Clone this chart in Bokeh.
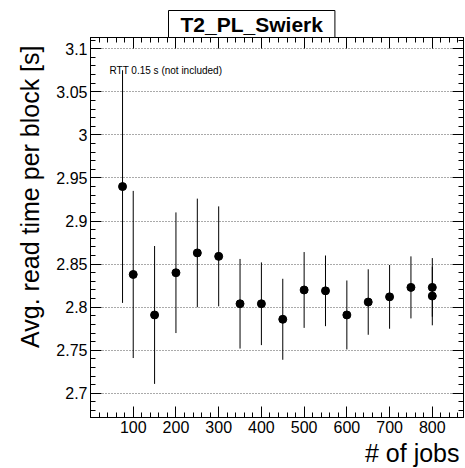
from bokeh.plotting import figure
from bokeh.models import (Range1d, FixedTicker, LinearAxis, Label, Title, Grid,
                          CustomJSTickFormatter, ColumnDataSource)
from bokeh.embed import file_html
from bokeh.resources import INLINE

# Average read time per block vs. number of concurrent jobs
jobs = [75, 100, 150, 200, 250, 300, 350, 400, 450, 500, 550, 600, 650, 700, 750, 800, 800]
read_time = [2.940, 2.838, 2.791, 2.840, 2.863, 2.859, 2.804, 2.804, 2.786, 2.820,
             2.819, 2.791, 2.806, 2.812, 2.823, 2.823, 2.813]
read_err = [0.135, 0.097, 0.080, 0.070, 0.063, 0.058, 0.052, 0.048, 0.047, 0.044,
            0.041, 0.040, 0.038, 0.037, 0.036, 0.034, 0.034]

x_major = [100, 200, 300, 400, 500, 600, 700, 800]
y_major = [2.7, 2.75, 2.8, 2.85, 2.9, 2.95, 3.0, 3.05, 3.1]

FONT = "Liberation Sans"

src = ColumnDataSource(dict(
    x=jobs, y=read_time,
    lo=[v - e for v, e in zip(read_time, read_err)],
    hi=[v + e for v, e in zip(read_time, read_err)],
))

p = figure(width=465, height=468, output_backend="svg", toolbar_location=None,
           x_range=Range1d(0, 873), y_range=Range1d(2.672, 3.113),
           min_border_left=90, min_border_right=2, min_border_top=37,
           min_border_bottom=51, background_fill_color="white",
           border_fill_color="white", x_axis_type=None, y_axis_type=None)
p.outline_line_color = "black"
p.outline_line_width = 1

x_ticker = FixedTicker(ticks=x_major, minor_ticks=list(range(0, 880, 20)))
y_ticker = FixedTicker(ticks=y_major,
                       minor_ticks=[round(2.67 + 0.01 * i, 2) for i in range(45)])
fmt = CustomJSTickFormatter(code="return String(parseFloat(tick.toFixed(3)));")


def style_axis(ax, labels):
    ax.axis_line_color = "black"
    ax.major_tick_line_color = "black"
    ax.minor_tick_line_color = "black"
    ax.major_tick_in = 11
    ax.major_tick_out = 0
    ax.minor_tick_in = 5
    ax.minor_tick_out = 0
    if labels:
        ax.major_label_text_font = FONT
        ax.major_label_text_font_size = "16px"
        ax.major_label_text_color = "black"
        ax.major_label_standoff = 3
    else:
        ax.major_label_text_font_size = "0px"
        ax.major_label_standoff = 0


bottom = LinearAxis(ticker=x_ticker)
style_axis(bottom, True)
top = LinearAxis(ticker=x_ticker)
style_axis(top, False)
left = LinearAxis(ticker=y_ticker, formatter=fmt)
style_axis(left, True)
right = LinearAxis(ticker=y_ticker)
style_axis(right, False)
p.add_layout(bottom, "below")
p.add_layout(top, "above")
p.add_layout(left, "left")
p.add_layout(right, "right")

# dotted horizontal grid at the major y ticks
p.add_layout(Grid(dimension=1, ticker=y_ticker, grid_line_color="#555555",
                  grid_line_dash="1 2", grid_line_width=1))

# error bars and markers
p.segment(x0="x", y0="lo", x1="x", y1="hi", source=src, line_color="black", line_width=1)
p.scatter(x="x", y="y", source=src, size=8, marker="circle",
          fill_color="black", line_color="black")

# note inside the frame
p.add_layout(Label(x=44.5, y=3.0747, text="RTT 0.15 s (not included)",
                   text_font=FONT, text_font_size="10px", text_color="black",
                   text_baseline="middle"))

# axis titles, right/top aligned
p.add_layout(Title(text="# of jobs", align="right", text_font=FONT,
                   text_font_size="25px", text_font_style="normal",
                   text_color="black", standoff=3, offset=4), "below")
p.add_layout(Title(text="Avg. read time per block [s]", align="right",
                   text_font=FONT, text_font_size="25px",
                   text_font_style="normal", text_color="black",
                   standoff=20, offset=8), "left")

# boxed plot title
p.add_layout(Title(text="T2_PL_Swierk", align="left", offset=78,
                   text_font=FONT, text_font_size="21px", text_font_style="bold",
                   text_color="black", background_fill_color="white",
                   border_line_color="black", border_line_width=1,
                   padding=(12, 2), standoff=0), "above")

open("out.html", "w").write(file_html(p, INLINE))
